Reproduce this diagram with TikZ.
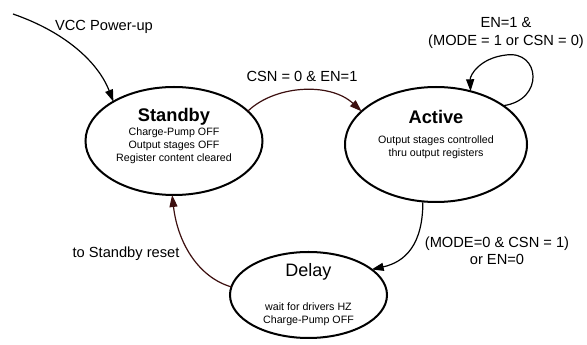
\documentclass[tikz,border=0pt]{standalone}
\usepackage{fontspec}
\setmainfont{Liberation Sans}
\usetikzlibrary{shapes.geometric,arrows.meta}
\definecolor{edgered}{RGB}{60,15,15}
\begin{document}
\begin{tikzpicture}[x=0.75pt,y=-0.75pt,
  state/.style={ellipse,draw,line width=1.5pt,inner sep=0pt,outer sep=0pt},
  edge/.style={line width=0.9pt,-{Triangle[length=9pt,width=6pt]}},
  lbl/.style={font=\fontsize{11}{13}\selectfont,align=center,inner sep=0pt},
  title/.style={font=\fontsize{13.7}{16}\selectfont\bfseries,inner sep=0pt},
  subtxt/.style={font=\fontsize{8}{9.8}\selectfont,align=center,inner sep=0pt}]
\useasboundingbox (0,0) rectangle (587,345);
% states
\node[state,minimum width=132.75pt,minimum height=81pt] (standby) at (174,141) {};
\node[state,minimum width=136.5pt,minimum height=86.25pt] (active) at (436,144.5) {};
\node[state,minimum width=117.75pt,minimum height=64.5pt] (delay) at (308.5,295) {};
% state texts
\node[title] (standbyT) at (174,117) {Standby};
\node[subtxt] (standbyS) at (174,146) {Charge-Pump OFF\\Output stages OFF\\Register content cleared};
\node[title] (activeT) at (436,117) {Active};
\node[subtxt] (activeS) at (436,147) {Output stages controlled\\thru output registers};
\node[font=\fontsize{13.5}{16}\selectfont,inner sep=0pt] (delayT) at (308.5,272) {Delay};
\node[subtxt] (delayS) at (308.5,314.5) {wait for drivers HZ\\Charge-Pump OFF};
% labels
\node[lbl] (vccL) at (104,27) {VCC Power-up};
\node[lbl] (sbaL) at (302,76) {CSN = 0 \& EN=1};
\node[lbl] (loopL) at (506,33) {EN=1 \&\\(MODE = 1 or CSN = 0)};
\node[lbl] (adL) at (497,251) {(MODE=0 \& CSN = 1)\\or EN=0};
\node[lbl] (dsL) at (126,254) {to Standby reset};
% connectors
\coordinate (vccstart) at (13,14);
\draw[edge] (vccstart) .. controls (65,32) and (98,62) .. (standby.147);
\draw[edge,edgered] (standby.22) .. controls (275,85) and (330,82) .. (active.156);
\draw[edge] (active.30) .. controls (545,100) and (540,50) .. (506,55)
   .. controls (480,58) and (470,75) .. (active.57);
\draw[edge] (active.257) .. controls (423,245) and (405,262) .. (delay.22);
\draw[edge,edgered] (delay.174) .. controls (200,278) and (178,245) .. (standby.268);
\end{tikzpicture}
\end{document}
